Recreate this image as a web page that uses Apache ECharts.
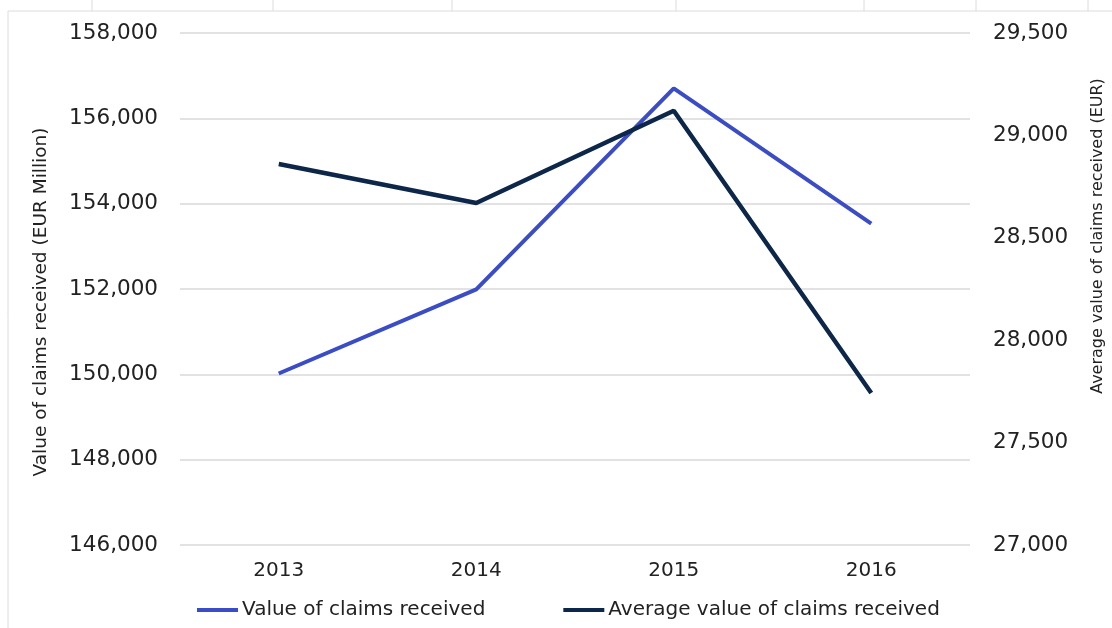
<!DOCTYPE html>
<html>
<head>
<meta charset="utf-8">
<script src="https://cdn.jsdelivr.net/npm/echarts@6/dist/echarts.min.js"></script>
<style>
html,body{margin:0;padding:0;background:#fff;}
#c{width:1112px;height:628px;}
</style>
</head>
<body>
<div id="c"></div>
<script>
const categories = ['2013', '2014', '2015', '2016'];
const valueClaims = [150020, 151990, 156700, 153530];
const avgClaims = [28860, 28670, 29120, 27742];
const leftTicks = { min: 146000, max: 158000, interval: 2000 };
const rightTicks = { min: 27000, max: 29500, interval: 500 };
const seriesNames = ['Value of claims received', 'Average value of claims received'];
const leftTitle = 'Value of claims received (EUR Million)';
const rightTitle = 'Average value of claims received (EUR)';

const FONT = 'DejaVu Sans';
const fmt = v => v.toLocaleString('en-US');

const chart = echarts.init(document.getElementById('c'));
const frame = '#dcdcdc';
const topTicks = [92, 273, 452, 676, 864, 976, 1088];
const graphics = [
  { type: 'line', shape: { x1: 8, y1: 11, x2: 1112, y2: 11 }, style: { stroke: frame, lineWidth: 1 } },
  { type: 'line', shape: { x1: 8, y1: 11, x2: 8, y2: 628 }, style: { stroke: frame, lineWidth: 1 } },
  {
    type: 'text', x: 41, y: 302, rotation: Math.PI / 2,
    style: { text: leftTitle, font: '18.5px "' + FONT + '"', fill: '#222', align: 'center', verticalAlign: 'middle' }
  },
  {
    type: 'text', x: 1098, y: 236, rotation: Math.PI / 2,
    style: { text: rightTitle, font: '16px "' + FONT + '"', fill: '#222', align: 'center', verticalAlign: 'middle' }
  }
];
topTicks.forEach(x => graphics.push({ type: 'line', shape: { x1: x, y1: 0, x2: x, y2: 11 }, style: { stroke: frame, lineWidth: 1 } }));

chart.setOption({
  backgroundColor: '#fff',
  animation: false,
  textStyle: { fontFamily: FONT },
  grid: { left: 180, right: 142, top: 33, bottom: 83 },
  legend: {
    bottom: 3, left: 192,
    itemWidth: 41, itemHeight: 4, itemGap: 78,
    icon: 'rect',
    textStyle: { fontFamily: FONT, fontSize: 20, color: '#222', padding: [0, 0, 0, -1] },
    data: seriesNames
  },
  xAxis: {
    type: 'category', data: categories, boundaryGap: true,
    axisLine: { show: false }, axisTick: { show: false },
    axisLabel: { fontFamily: FONT, fontSize: 20, color: '#222', margin: 16 }
  },
  yAxis: [
    {
      type: 'value', min: leftTicks.min, max: leftTicks.max, interval: leftTicks.interval,
      axisLine: { show: false }, axisTick: { show: false },
      splitLine: { lineStyle: { color: '#d9d9d9', width: 1.5 } },
      axisLabel: { fontFamily: FONT, fontSize: 21.5, color: '#222', margin: 22, formatter: fmt }
    },
    {
      type: 'value', min: rightTicks.min, max: rightTicks.max, interval: rightTicks.interval,
      axisLine: { show: false }, axisTick: { show: false },
      splitLine: { show: false },
      axisLabel: { fontFamily: FONT, fontSize: 21.5, color: '#222', margin: 23, formatter: fmt }
    }
  ],
  series: [
    {
      name: seriesNames[0], type: 'line', data: valueClaims, yAxisIndex: 0,
      symbol: 'none', lineStyle: { color: '#3a4cc6', width: 4 }, itemStyle: { color: '#3a4cc6' }
    },
    {
      name: seriesNames[1], type: 'line', data: avgClaims, yAxisIndex: 1,
      symbol: 'none', lineStyle: { color: '#0c2749', width: 4.5 }, itemStyle: { color: '#0c2749' }
    }
  ],
  graphic: graphics
});
</script>
</body>
</html>
